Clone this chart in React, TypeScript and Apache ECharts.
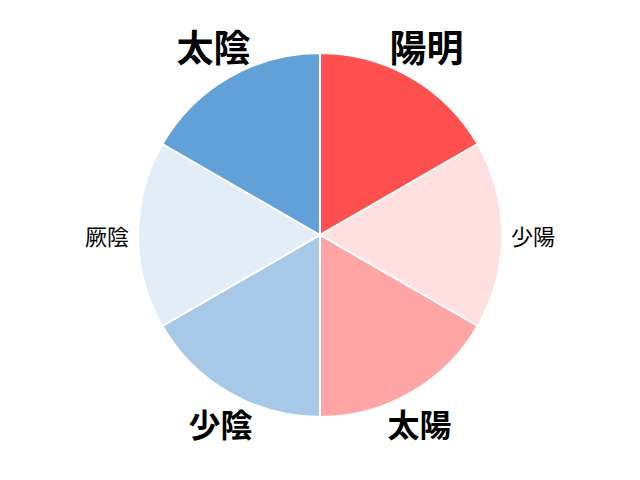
import React, { useEffect, useRef } from "react";
import * as echarts from "echarts";

const categories = ["陽明", "少陽", "太陽", "少陰", "厥陰", "太陰"];
const values = [1, 1, 1, 1, 1, 1];
const colors = ["#ff5050", "#ffdfe0", "#ffa5a5", "#a8c8e8", "#e3edf8", "#62a0d8"];
const labelSizes = [37, 22, 32, 32, 22, 37];
const labelWeights = ["bold", "normal", "bold", "bold", "normal", "bold"];
const labelShiftX = [0, 0, -7, 7, 0, 0];
const labelShiftY = [-5, 0, 4, 4, 0, -5];

export default function App() {
  const ref = useRef<HTMLDivElement>(null);
  useEffect(() => {
    if (!ref.current) return;
    const chart = echarts.init(ref.current, undefined, { renderer: "svg" });
    const font = '"Noto Sans CJK JP", "Noto Sans CJK SC", sans-serif';
    chart.setOption({
      animation: false,
      series: [
        {
          type: "pie",
          center: [312, 227],
          radius: [0, 182],
          startAngle: 90,
          clockwise: true,
          silent: true,
          label: { show: false },
          labelLine: { show: false },
          itemStyle: { borderColor: "#ffffff", borderWidth: 2 },
          data: categories.map((name, i) => ({
            name,
            value: values[i],
            itemStyle: { color: colors[i] },
          })),
        },
        {
          type: "pie",
          center: [312, 227],
          radius: [195, 225],
          startAngle: 90,
          clockwise: true,
          silent: true,
          itemStyle: { color: "transparent", borderWidth: 0 },
          labelLine: { show: false },
          label: {
            show: true,
            position: "inside",
            formatter: "{b}",
            color: "#000000",
            fontFamily: font,
          },
          labelLayout: (params: any) => ({
            dx: labelShiftX[params.dataIndex] || 0,
            dy: labelShiftY[params.dataIndex] || 0,
          }),
          data: categories.map((name, i) => ({
            name,
            value: values[i],
            label: { fontSize: labelSizes[i], fontWeight: labelWeights[i] },
          })),
        },
      ],
    });
    return () => chart.dispose();
  }, []);
  return <div ref={ref} style={{ width: 624, height: 464 }} />;
}
